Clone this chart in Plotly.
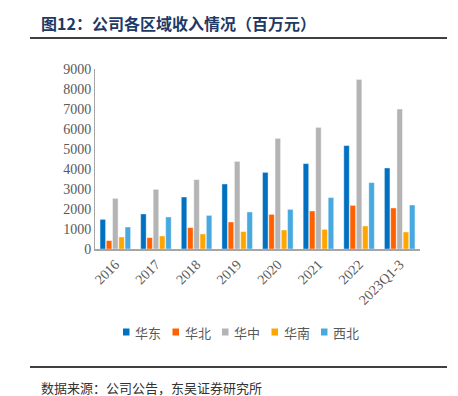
import plotly.graph_objects as go

categories = ["2016", "2017", "2018", "2019", "2020", "2021", "2022", "2023Q1-3"]
series_names = ["华东", "华北", "华中", "华南", "西北"]
east = [1480, 1750, 2600, 3250, 3830, 4270, 5170, 4050]
north = [420, 570, 1070, 1350, 1730, 1900, 2180, 2050]
central = [2530, 2980, 3470, 4380, 5530, 6080, 8470, 7000]
south = [600, 650, 750, 870, 950, 980, 1150, 850]
northwest = [1100, 1600, 1680, 1850, 1980, 2570, 3320, 2200]
y_ticks = [0, 1000, 2000, 3000, 4000, 5000, 6000, 7000, 8000, 9000]

series_values = [east, north, central, south, northwest]
colors = ["#0070C0", "#FF6000", "#B4B4B4", "#FFA500", "#48A8E0"]

W, H = 458, 396
L, R, T, B = 95, 420, 69, 249

def px(x):
    return (x - L) / (R - L)

def py(y):
    return (B - y) / (B - T)

fig = go.Figure()
for name, vals, c in zip(series_names, series_values, colors):
    fig.add_trace(go.Bar(x=categories, y=vals, name=name,
                         marker=dict(color=c, line=dict(color="white", width=0.4)),
                         showlegend=False))

serif = "Liberation Serif, Times New Roman, serif"
cjk = "Noto Sans CJK SC"
gray = "#595959"

fig.update_layout(
    width=W, height=H,
    margin=dict(l=L, r=W - R, t=T, b=H - B),
    paper_bgcolor="white", plot_bgcolor="white",
    barmode="group", bargap=0.23, bargroupgap=0.12,
    xaxis=dict(type="category", tickangle=-45, showline=True, linecolor="#A6A6A6",
               linewidth=1.5, ticks="", tickfont=dict(family=serif, size=14, color=gray),
               showgrid=False, fixedrange=True),
    yaxis=dict(range=[0, 9000], tickvals=y_ticks, showline=True, linecolor="#A6A6A6",
               linewidth=1, ticks="", showgrid=False, zeroline=False,
               tickfont=dict(family=serif, size=14, color=gray), fixedrange=True),
)

annotations = [
    dict(text="<b>图12：公司各区域收入情况（百万元）</b>", x=px(39), y=py(23), xref="paper", yref="paper",
         xanchor="left", yanchor="middle", showarrow=False,
         font=dict(family=cjk, size=16, color="#1F3864")),
    dict(text="数据来源：公司公告，东吴证券研究所", x=px(39), y=py(387), xref="paper", yref="paper",
         xanchor="left", yanchor="middle", showarrow=False,
         font=dict(family=cjk, size=13, color="#333333")),
]
shapes = [
    dict(type="line", xref="paper", yref="paper", x0=px(30), x1=px(447), y0=py(38), y1=py(38),
         line=dict(color="black", width=1.5)),
    dict(type="line", xref="paper", yref="paper", x0=px(30), x1=px(447), y0=py(367), y1=py(367),
         line=dict(color="black", width=1.5)),
]

# manual legend
leg_x0 = 123
leg_step = 49.5
leg_y = 332
for i, (name, c) in enumerate(zip(series_names, colors)):
    sx = leg_x0 + i * leg_step
    shapes.append(dict(type="rect", xref="paper", yref="paper",
                       x0=px(sx), x1=px(sx + 6.5), y0=py(leg_y - 3.5), y1=py(leg_y + 3.5),
                       fillcolor=c, line=dict(width=0)))
    annotations.append(dict(text=name, x=px(sx + 10), y=py(leg_y), xref="paper", yref="paper",
                            xanchor="left", yanchor="middle", showarrow=False,
                            font=dict(family=cjk, size=13, color=gray)))

fig.update_layout(annotations=annotations, shapes=shapes)
fig.write_html("out.html", config={"displayModeBar": False},
               post_script="document.body.style.margin='0';document.body.style.overflow='hidden';")
